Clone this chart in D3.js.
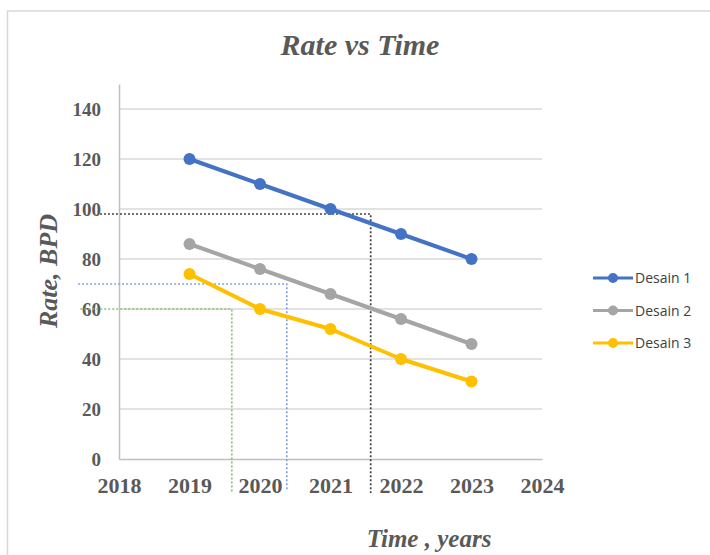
<!DOCTYPE html>
<html>
<head>
<meta charset="utf-8">
<script src="https://cdn.jsdelivr.net/npm/d3@7"></script>
<style>
  html, body { margin: 0; padding: 0; background: #fff; }
  svg { display: block; }
</style>
</head>
<body>
<svg id="chart" width="710" height="555"></svg>
<script>
// Rate per design over the years
const years = [2019, 2020, 2021, 2022, 2023];
const desain1 = [120, 110, 100, 90, 80];
const desain2 = [86, 76, 66, 56, 46];
const desain3 = [74, 60, 52, 40, 31];
const seriesNames = ["Desain 1", "Desain 2", "Desain 3"];
const seriesColors = ["#4472C4", "#A5A5A5", "#FFC000"];

// Axis ticks
const xTicks = [2018, 2019, 2020, 2021, 2022, 2023, 2024];
const yTicks = [0, 20, 40, 60, 80, 100, 120, 140];

// Dotted read-off guides: level on the rate axis and the year it meets
const guideRates = [98, 70, 60];
const guideYears = [2021.57, 2020.38, 2019.6];
const guideStartYears = [2017.73, 2017.42, 2017.45];
const guideEndRates = [-13.6, -12.4, -13.6];
const guideColors = ["#404040", "#7fa3e6", "#86c46a"];

const svg = d3.select("#chart");
const margin = { left: 119, right: 168, top: 84, bottom: 96 };
const W = 710, H = 555;

const x = d3.scaleLinear().domain([2018, 2024]).range([margin.left, W - margin.right]);
const y = d3.scaleLinear().domain([0, 150]).range([H - margin.bottom, margin.top]);

// chart frame
svg.append("rect")
  .attr("x", 7.5).attr("y", 11).attr("width", 740).attr("height", 600)
  .attr("fill", "none").attr("stroke", "#d9d9d9").attr("stroke-width", 1.5);

// title
svg.append("text")
  .attr("x", 360).attr("y", 55)
  .attr("text-anchor", "middle")
  .style("font-family", "'Liberation Serif', 'Times New Roman', serif")
  .style("font-weight", "bold").style("font-style", "italic")
  .style("font-size", "30px").attr("fill", "#595959")
  .text("Rate vs Time");

// horizontal gridlines
svg.append("g")
  .selectAll("line")
  .data(yTicks.filter(d => d > 0))
  .join("line")
  .attr("x1", x(2018)).attr("x2", x(2024))
  .attr("y1", d => y(d)).attr("y2", d => y(d))
  .attr("stroke", "#d9d9d9").attr("stroke-width", 1.5);

// y axis
const yAxis = svg.append("g")
  .attr("transform", `translate(${x(2018)},0)`)
  .call(d3.axisLeft(y).tickValues(yTicks).tickSize(0).tickPadding(18));
yAxis.select(".domain").attr("stroke", "#bfbfbf").attr("stroke-width", 1.5);
yAxis.selectAll("text")
  .style("font-family", "'Liberation Serif', 'Times New Roman', serif")
  .style("font-weight", "bold").style("font-size", "19px")
  .attr("fill", "#595959");

// x axis
const xAxis = svg.append("g")
  .attr("transform", `translate(0,${y(0)})`)
  .call(d3.axisBottom(x).tickValues(xTicks).tickFormat(d3.format("d")).tickSize(0).tickPadding(18));
xAxis.select(".domain").attr("stroke", "#bfbfbf").attr("stroke-width", 1.5);
xAxis.selectAll("text")
  .style("font-family", "'Liberation Serif', 'Times New Roman', serif")
  .style("font-weight", "bold").style("font-size", "22px")
  .attr("fill", "#595959");

// dotted guides
const guides = svg.append("g").attr("fill", "none").attr("stroke-width", 1.7).attr("stroke-dasharray", "2,2");
guideRates.forEach((r, i) => {
  guides.append("path")
    .attr("stroke", guideColors[i])
    .attr("d", d3.line()([
      [x(guideStartYears[i]), y(r)],
      [x(guideYears[i]), y(r)],
      [x(guideYears[i]), y(guideEndRates[i])]
    ]));
});

// series lines and markers
const allSeries = [desain1, desain2, desain3];
const line = d3.line().x((d, i) => x(years[i])).y(d => y(d));
allSeries.forEach((vals, s) => {
  const g = svg.append("g");
  g.append("path")
    .datum(vals)
    .attr("d", line)
    .attr("fill", "none")
    .attr("stroke", seriesColors[s])
    .attr("stroke-width", 4)
    .attr("stroke-linejoin", "round")
    .attr("stroke-linecap", "round");
  g.selectAll("circle")
    .data(vals)
    .join("circle")
    .attr("cx", (d, i) => x(years[i]))
    .attr("cy", d => y(d))
    .attr("r", 6)
    .attr("fill", seriesColors[s]);
});

// axis titles
svg.append("text")
  .attr("x", 429).attr("y", 547)
  .attr("text-anchor", "middle")
  .style("font-family", "'Liberation Serif', 'Times New Roman', serif")
  .style("font-weight", "bold").style("font-style", "italic")
  .style("font-size", "25px").attr("fill", "#595959")
  .text("Time , years");

svg.append("text")
  .attr("transform", "translate(57,271) rotate(-90)")
  .attr("text-anchor", "middle")
  .style("font-family", "'Liberation Serif', 'Times New Roman', serif")
  .style("font-weight", "bold").style("font-style", "italic")
  .style("font-size", "26px").attr("fill", "#595959")
  .text("Rate, BPD");

// legend
const legend = svg.append("g");
seriesNames.forEach((name, i) => {
  const cy = 278 + i * 32.5;
  legend.append("line")
    .attr("x1", 593).attr("x2", 633).attr("y1", cy).attr("y2", cy)
    .attr("stroke", seriesColors[i]).attr("stroke-width", 3);
  legend.append("circle")
    .attr("cx", 613).attr("cy", cy).attr("r", 5)
    .attr("fill", seriesColors[i]);
  legend.append("text")
    .attr("x", 635).attr("y", cy + 5)
    .style("font-family", "'Open Sans', 'Liberation Sans', sans-serif")
    .style("font-size", "14px").attr("fill", "#404040")
    .text(name);
});
</script>
</body>
</html>
